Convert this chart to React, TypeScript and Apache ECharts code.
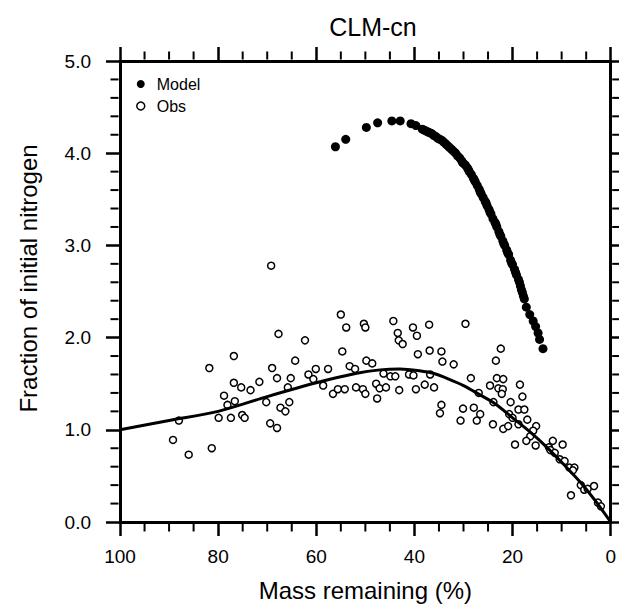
import React, { useEffect, useRef } from "react";
import * as echarts from "echarts";

// ---- data ----
const titleText = "CLM-cn";
const xName = "Mass remaining (%)";
const yName = "Fraction of initial nitrogen";
const seriesNames = ["Model", "Obs"];

// Model: [mass remaining %, fraction of initial N]
const modelPoints: number[][] = [
  [56.1, 4.07], [54.0, 4.15], [49.8, 4.28], [47.5, 4.33], [44.6, 4.35], [42.9, 4.35],
  [40.7, 4.32], [39.7, 4.3],
  [38.4, 4.26], [38.0, 4.25], [37.6, 4.24], [37.2, 4.23], [36.8, 4.22], [36.4, 4.21],
  [36.0, 4.19], [35.6, 4.18], [35.2, 4.16], [34.8, 4.15], [34.4, 4.14], [34.0, 4.12],
  [33.6, 4.1], [33.2, 4.08], [32.8, 4.06], [32.4, 4.04], [32.0, 4.02], [31.6, 4.0],
  [31.2, 3.97], [30.8, 3.95], [30.4, 3.92], [30.0, 3.89], [29.6, 3.87], [29.2, 3.84],
  [28.8, 3.8], [28.4, 3.77], [28.0, 3.73], [27.6, 3.69], [27.2, 3.65], [26.8, 3.61],
  [26.4, 3.56], [26.0, 3.52], [25.6, 3.48], [25.2, 3.43], [24.8, 3.39], [24.4, 3.34],
  [24.0, 3.29], [23.6, 3.25], [23.2, 3.2], [22.8, 3.15], [22.4, 3.1], [22.0, 3.05],
  [21.6, 3.0], [21.2, 2.95], [20.8, 2.9], [20.4, 2.84], [20.0, 2.79], [19.6, 2.74],
  [19.2, 2.68], [18.8, 2.63], [18.4, 2.56], [18.0, 2.49], [17.6, 2.42],
  [23.4, 3.23], [22.6, 3.12], [21.8, 3.02], [21.0, 2.92], [20.2, 2.81], [19.4, 2.71],
  [18.6, 2.6], [18.2, 2.52], [17.8, 2.45], [25.4, 3.46], [24.6, 3.36], [26.6, 3.58],
  [27.8, 3.71], [29.0, 3.82], [30.2, 3.9],
  [17.2, 2.33], [16.5, 2.25], [15.8, 2.18], [15.3, 2.12], [14.8, 2.05], [14.5, 1.98],
  [13.8, 1.88],
];

// Obs: [mass remaining %, fraction of initial N]
const obsPoints: number[][] = [
  [69.2, 2.78], [67.7, 2.04], [62.3, 1.97], [76.8, 1.8], [81.8, 1.67], [64.3, 1.75],
  [69.0, 1.67], [60.1, 1.66], [76.8, 1.51], [75.3, 1.46], [73.4, 1.43], [71.6, 1.52],
  [68.0, 1.56], [65.2, 1.56], [65.8, 1.46], [61.6, 1.6], [60.6, 1.55], [58.6, 1.48],
  [78.8, 1.37], [78.1, 1.27], [76.6, 1.31], [70.2, 1.3], [67.3, 1.24], [66.3, 1.2],
  [65.5, 1.3], [79.9, 1.13], [77.4, 1.13], [75.1, 1.16], [74.6, 1.13], [88.0, 1.1],
  [69.4, 1.07], [68.0, 1.02], [89.2, 0.89], [86.0, 0.73], [81.3, 0.8],
  [55.0, 2.25], [53.9, 2.11], [50.3, 2.15], [50.0, 2.11], [44.3, 2.18], [43.4, 2.05],
  [43.2, 1.97], [42.4, 1.93], [40.3, 2.11], [39.5, 2.02], [37.0, 2.14], [29.6, 2.15],
  [54.7, 1.85], [39.3, 1.82], [36.9, 1.86], [34.5, 1.85], [34.3, 1.74], [32.0, 1.71],
  [22.4, 1.88], [23.4, 1.75], [57.6, 1.66], [53.2, 1.69], [52.1, 1.66], [49.8, 1.75],
  [48.6, 1.72], [46.3, 1.61], [44.9, 1.58], [43.9, 1.58], [41.1, 1.6], [40.2, 1.59],
  [36.8, 1.6], [56.6, 1.39], [55.6, 1.44], [54.2, 1.44], [51.9, 1.46], [50.5, 1.44],
  [50.0, 1.39], [47.8, 1.5], [47.1, 1.45], [45.8, 1.46], [47.6, 1.34], [43.1, 1.43],
  [39.7, 1.44], [37.9, 1.49], [36.0, 1.46], [28.5, 1.56], [34.5, 1.27], [34.8, 1.18],
  [30.1, 1.23], [30.6, 1.1], [27.9, 1.24], [26.9, 1.4], [26.6, 1.17], [27.3, 1.1],
  [24.6, 1.48], [23.2, 1.56], [21.9, 1.55], [22.9, 1.45], [22.0, 1.44], [22.2, 1.39],
  [23.9, 1.3], [24.0, 1.06], [21.9, 1.01], [20.4, 1.3], [18.5, 1.49], [18.0, 1.36],
  [18.8, 1.22], [17.6, 1.22], [20.7, 1.17], [20.0, 1.13], [20.9, 1.04], [18.8, 1.06],
  [17.0, 1.11], [15.2, 1.04], [15.8, 0.99], [16.4, 0.93], [19.5, 0.84], [17.2, 0.88],
  [15.3, 0.83], [11.8, 0.88], [12.6, 0.81],
  [9.8, 0.84], [12.3, 0.78], [11.4, 0.75], [10.4, 0.68], [9.4, 0.66], [8.4, 0.59],
  [7.4, 0.59], [7.7, 0.56], [8.1, 0.29], [6.1, 0.4], [5.4, 0.35], [4.7, 0.36],
  [3.4, 0.39], [2.6, 0.21], [2.0, 0.17],
];

// Fitted curve through the observations
const fitLine: number[][] = [
  [100, 1.0], [90, 1.1], [80, 1.2], [70, 1.36], [60, 1.51], [52, 1.61], [47, 1.65],
  [43, 1.66], [39, 1.64], [36, 1.61], [33, 1.55], [30, 1.48], [27, 1.39], [23.5, 1.28],
  [20, 1.13], [16.5, 0.98], [13, 0.81], [9.5, 0.62], [6, 0.42], [3, 0.22], [0, 0],
];

const xRange = [0, 100];
const xStep = 20;
const yRange = [0, 5];
const yStep = 1;
// minor tick positions
const xMinorTicks = [5, 10, 15, 25, 30, 35, 45, 50, 55, 65, 70, 75, 85, 90, 95];
const yMinorTicks = [
  0.2, 0.4, 0.6, 0.8, 1.2, 1.4, 1.6, 1.8, 2.2, 2.4, 2.6, 2.8, 3.2, 3.4, 3.6, 3.8,
  4.2, 4.4, 4.6, 4.8,
];

const FONT = "'Liberation Sans', Arial, Helvetica, sans-serif";
const MINOR_LEN = 8;
const MINOR_W = 2;
const MINOR_OFF = 1.5 + MINOR_LEN / 2;

function xAxisCfg(position: "bottom" | "top", labels: boolean) {
  return {
    type: "value",
    position,
    min: xRange[0],
    max: xRange[1],
    interval: xStep,
    inverse: true,
    name: labels ? xName : undefined,
    nameLocation: "middle",
    nameGap: 56,
    nameTextStyle: { fontFamily: FONT, fontSize: 24, color: "#000" },
    axisLine: { show: true, onZero: false, lineStyle: { color: "#000", width: 3 } },
    axisTick: { show: true, inside: false, length: 14, lineStyle: { color: "#000", width: 2.5 } },
    splitLine: { show: false },
    axisLabel: {
      show: labels,
      margin: 25,
      fontFamily: FONT,
      fontSize: 19,
      color: "#000",
      showMinLabel: true,
      showMaxLabel: true,
    },
  };
}

function yAxisCfg(position: "left" | "right", labels: boolean) {
  return {
    type: "value",
    position,
    min: yRange[0],
    max: yRange[1],
    interval: yStep,
    name: labels ? yName : undefined,
    nameLocation: "middle",
    nameGap: 80,
    nameTextStyle: { fontFamily: FONT, fontSize: 24, color: "#000", padding: [0, 0, 0, 26] },
    axisLine: { show: true, onZero: false, lineStyle: { color: "#000", width: 3 } },
    axisTick: { show: true, inside: false, length: 14, lineStyle: { color: "#000", width: 2.5 } },
    splitLine: { show: false },
    axisLabel: {
      show: labels,
      margin: 29,
      fontFamily: FONT,
      fontSize: 19,
      color: "#000",
      formatter: (v: number) => v.toFixed(1),
    },
  };
}

// minor ticks drawn as thin rectangles placed through the axes' own scales
function tickSeries(name: string, data: number[][], size: number[], offset: number[]) {
  return {
    name,
    type: "scatter",
    data,
    symbol: "rect",
    symbolSize: size,
    symbolOffset: offset,
    clip: false,
    silent: true,
    itemStyle: { color: "#000", opacity: 1 },
    z: 1,
  };
}

export default function App() {
  const ref = useRef<HTMLDivElement>(null);
  useEffect(() => {
    document.body.style.margin = "0";
    if (!ref.current) return;
    const chart = echarts.init(ref.current, null, { renderer: "svg" });
    chart.setOption({
      animation: false,
      title: {
        text: titleText,
        left: 368,
        textAlign: "center",
        top: 9,
        textStyle: { fontFamily: FONT, fontSize: 25, fontWeight: "normal", color: "#000" },
      },
      legend: {
        orient: "vertical",
        left: 131,
        top: 71,
        itemWidth: 22,
        itemHeight: 8,
        itemGap: 6,
        textStyle: { fontFamily: FONT, fontSize: 16, color: "#000" },
        data: [
          { name: seriesNames[0], icon: "circle", itemStyle: { color: "#000", opacity: 1 } },
          {
            name: seriesNames[1],
            icon: "circle",
            itemStyle: { color: "#fff", borderColor: "#000", borderWidth: 1.5, opacity: 1 },
          },
        ],
      },
      grid: { left: 120, right: 4, top: 61, bottom: 88, containLabel: false },
      xAxis: [xAxisCfg("bottom", true), xAxisCfg("top", false)],
      yAxis: [yAxisCfg("left", true), yAxisCfg("right", false)],
      series: [
        tickSeries("xMinorBottom", xMinorTicks.map((v) => [v, yRange[0]]), [MINOR_W, MINOR_LEN], [0, MINOR_OFF]),
        tickSeries("xMinorTop", xMinorTicks.map((v) => [v, yRange[1]]), [MINOR_W, MINOR_LEN], [0, -MINOR_OFF]),
        tickSeries("yMinorLeft", yMinorTicks.map((v) => [xRange[1], v]), [MINOR_LEN, MINOR_W], [-MINOR_OFF, 0]),
        tickSeries("yMinorRight", yMinorTicks.map((v) => [xRange[0], v]), [MINOR_LEN, MINOR_W], [MINOR_OFF, 0]),
        {
          name: "fit",
          type: "line",
          data: fitLine,
          showSymbol: false,
          symbol: "none",
          smooth: 0.3,
          lineStyle: { color: "#000", width: 3 },
          z: 3,
        },
        {
          name: seriesNames[1],
          type: "scatter",
          data: obsPoints,
          symbol: "circle",
          symbolSize: 7,
          itemStyle: { color: "#fff", borderColor: "#000", borderWidth: 1.5, opacity: 1 },
          z: 2,
        },
        {
          name: seriesNames[0],
          type: "scatter",
          data: modelPoints,
          symbol: "circle",
          symbolSize: 9,
          itemStyle: { color: "#000", opacity: 1 },
          z: 4,
        },
      ],
    });
    return () => chart.dispose();
  }, []);
  return <div ref={ref} style={{ width: 619, height: 610 }} />;
}
